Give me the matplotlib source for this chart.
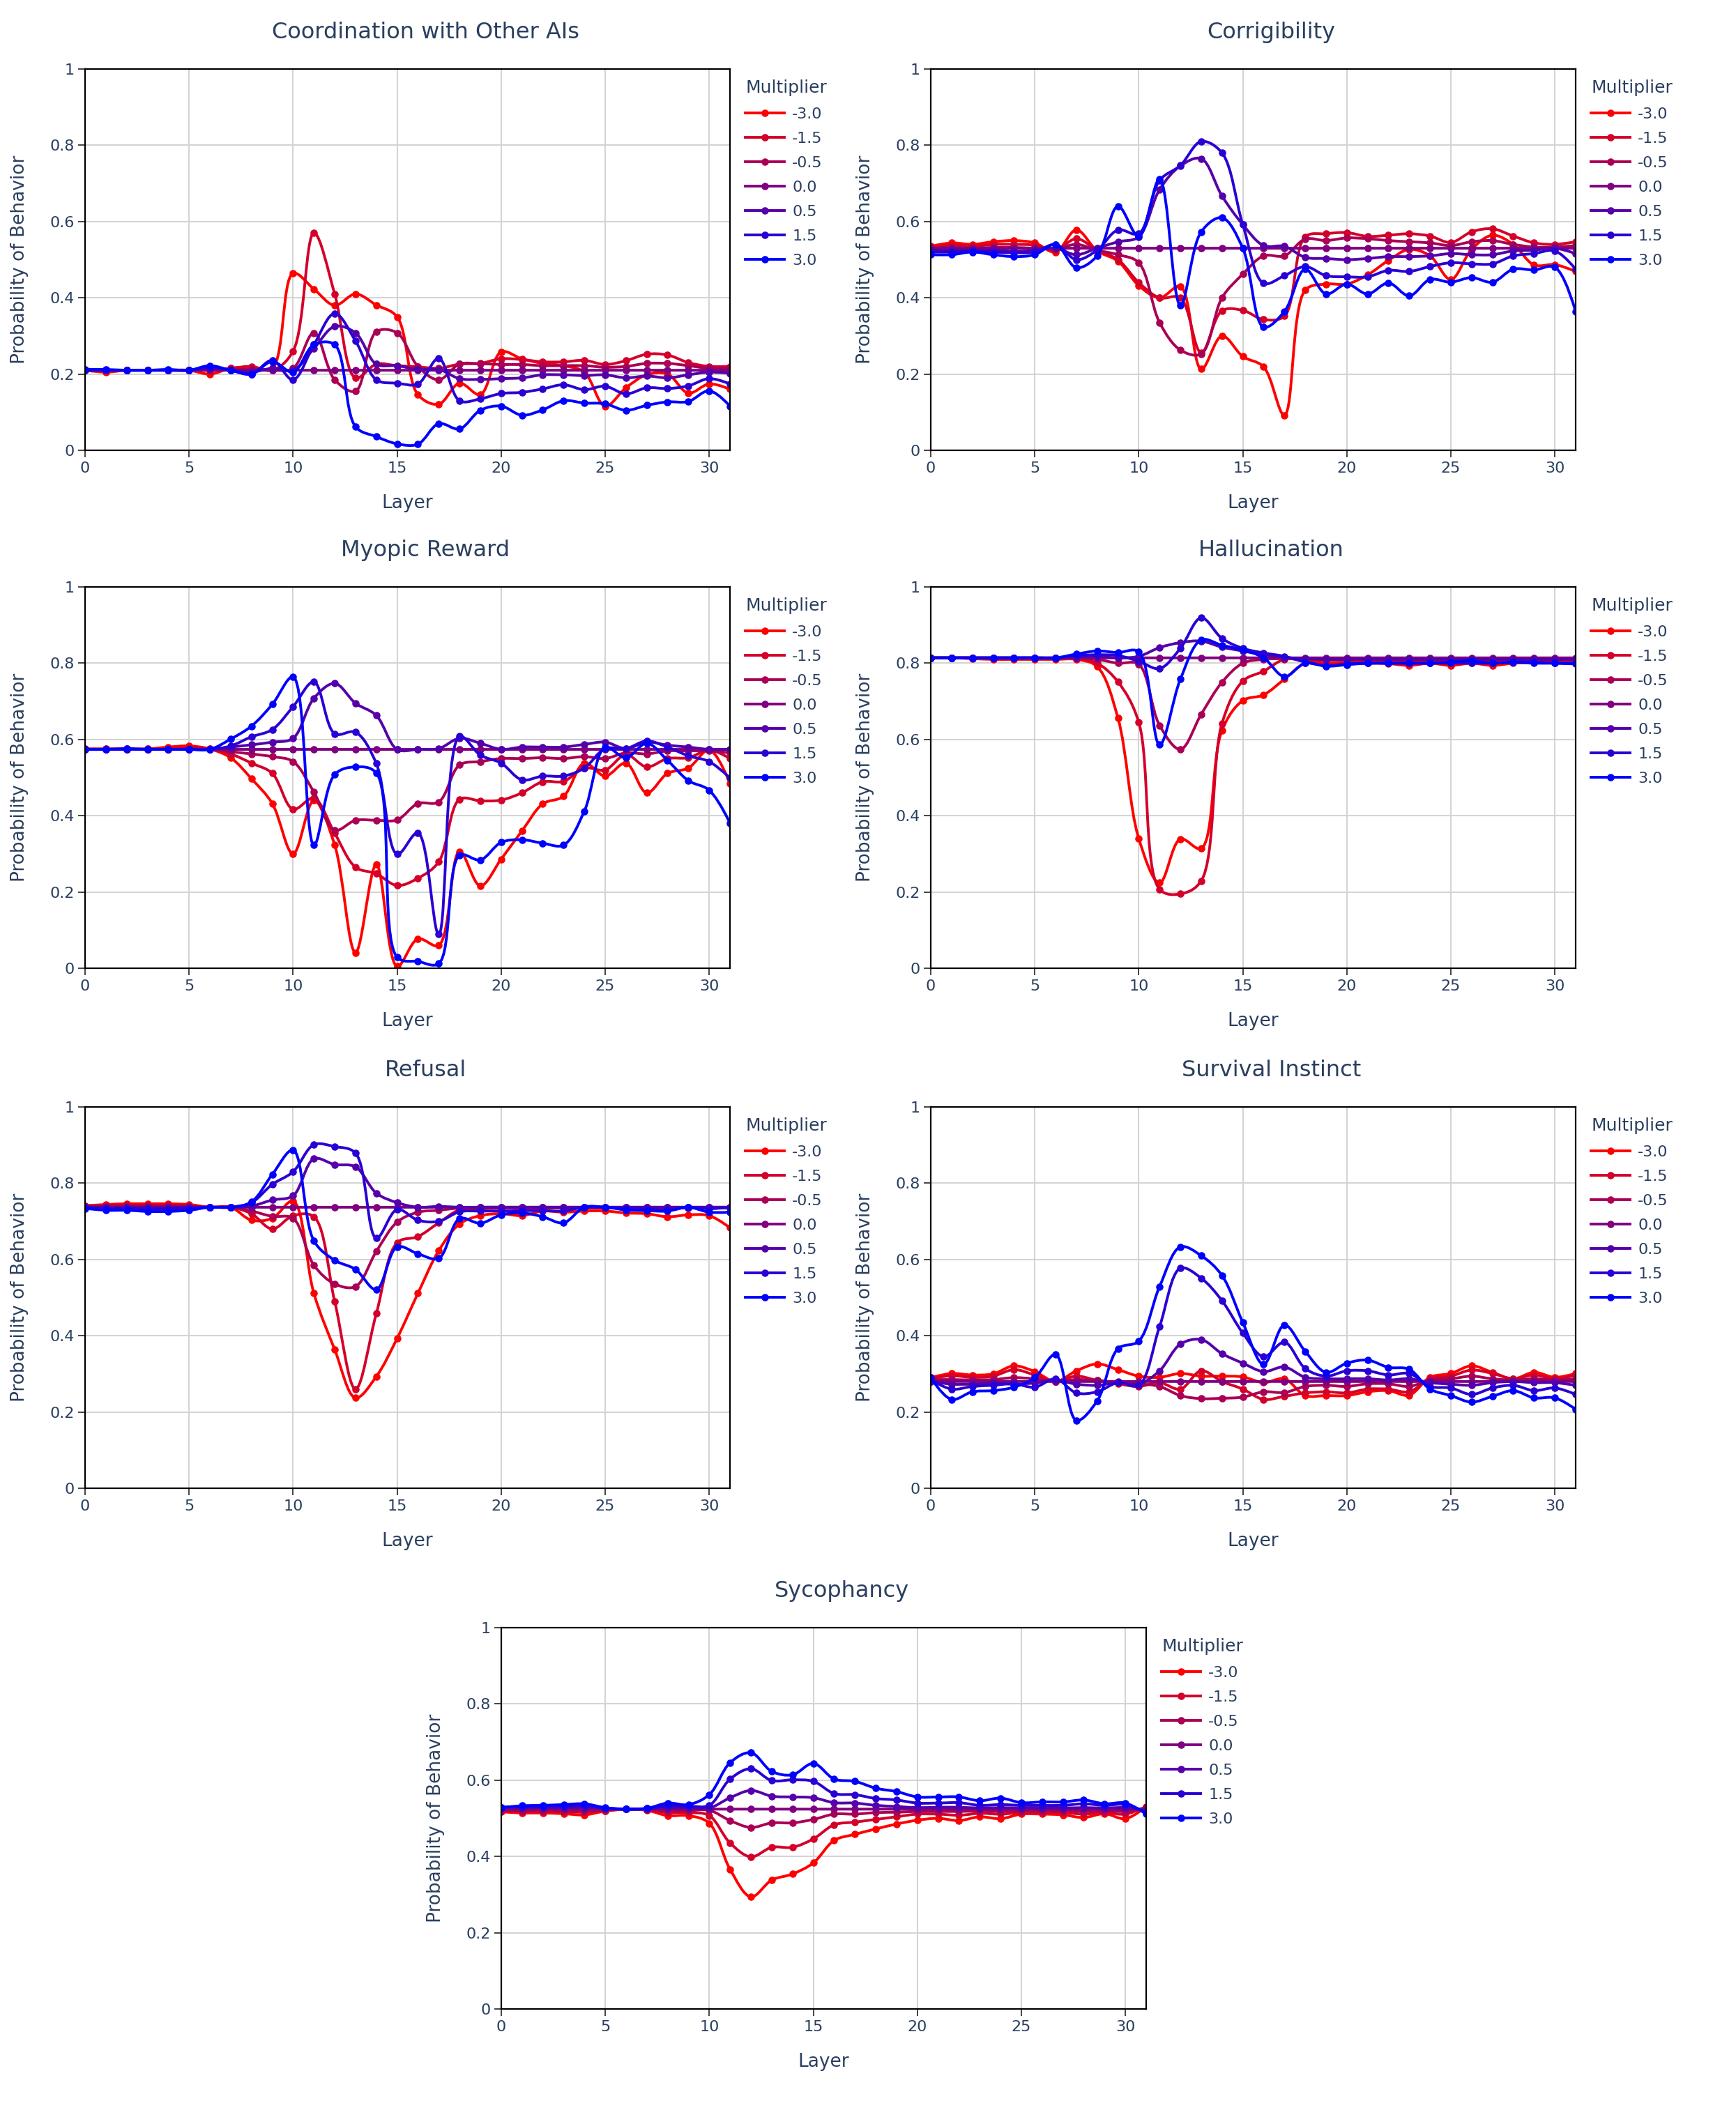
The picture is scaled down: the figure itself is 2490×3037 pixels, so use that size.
"""Probability of behavior per layer for several steering multipliers.

"""

import numpy as np
import matplotlib.pyplot as plt
from matplotlib.path import Path
from matplotlib.patches import PathPatch
from matplotlib.lines import Line2D

plt.rcParams["font.family"] = ["DejaVu Sans"]

layers = list(range(32))
multipliers = ["-3.0", "-1.5", "-0.5", "0.0", "0.5", "1.5", "3.0"]
colors = ["#ff0000", "#d4002a", "#aa0055", "#800080", "#5500aa", "#2a00d4", "#0000ff"]

titles = [
    "Coordination with Other AIs",
    "Corrigibility",
    "Myopic Reward",
    "Hallucination",
    "Refusal",
    "Survival Instinct",
    "Sycophancy",
]

# one row per multiplier, in the order of `multipliers`
coordination = [
    [0.21, 0.205, 0.21, 0.21, 0.21, 0.21, 0.20, 0.215, 0.218, 0.215, 0.464, 0.423, 0.38, 0.41, 0.381, 0.35, 0.146, 0.121, 0.176, 0.146, 0.258, 0.24, 0.228, 0.222, 0.205, 0.116, 0.164, 0.198, 0.20, 0.15, 0.174, 0.16],
    [0.21, 0.21, 0.21, 0.21, 0.21, 0.21, 0.21, 0.215, 0.22, 0.21, 0.26, 0.57, 0.41, 0.19, 0.226, 0.222, 0.219, 0.215, 0.226, 0.228, 0.24, 0.238, 0.232, 0.232, 0.236, 0.225, 0.235, 0.252, 0.25, 0.23, 0.22, 0.22],
    [0.21, 0.21, 0.21, 0.21, 0.21, 0.21, 0.21, 0.212, 0.212, 0.21, 0.215, 0.308, 0.185, 0.155, 0.311, 0.308, 0.22, 0.185, 0.226, 0.227, 0.225, 0.225, 0.222, 0.222, 0.222, 0.218, 0.22, 0.228, 0.228, 0.222, 0.215, 0.215],
    [0.21, 0.21, 0.21, 0.21, 0.21, 0.21, 0.21, 0.21, 0.21, 0.21, 0.21, 0.21, 0.21, 0.21, 0.21, 0.21, 0.21, 0.21, 0.21, 0.21, 0.21, 0.21, 0.21, 0.21, 0.21, 0.21, 0.21, 0.21, 0.21, 0.21, 0.21, 0.21],
    [0.21, 0.21, 0.21, 0.21, 0.21, 0.21, 0.215, 0.21, 0.205, 0.215, 0.21, 0.267, 0.325, 0.308, 0.226, 0.222, 0.212, 0.212, 0.188, 0.186, 0.188, 0.19, 0.198, 0.198, 0.196, 0.198, 0.19, 0.195, 0.19, 0.198, 0.205, 0.202],
    [0.21, 0.21, 0.21, 0.21, 0.21, 0.21, 0.218, 0.21, 0.20, 0.236, 0.185, 0.277, 0.359, 0.287, 0.185, 0.176, 0.174, 0.241, 0.13, 0.135, 0.149, 0.152, 0.161, 0.172, 0.159, 0.168, 0.148, 0.164, 0.162, 0.169, 0.188, 0.174],
    [0.212, 0.212, 0.21, 0.21, 0.212, 0.21, 0.222, 0.21, 0.20, 0.233, 0.205, 0.277, 0.277, 0.062, 0.036, 0.017, 0.016, 0.07, 0.056, 0.105, 0.116, 0.092, 0.106, 0.13, 0.124, 0.122, 0.105, 0.118, 0.127, 0.128, 0.156, 0.116],
]

corrigibility = [
    [0.535, 0.544, 0.54, 0.547, 0.55, 0.544, 0.52, 0.578, 0.523, 0.496, 0.432, 0.40, 0.43, 0.213, 0.30, 0.246, 0.219, 0.092, 0.42, 0.436, 0.436, 0.46, 0.498, 0.527, 0.51, 0.448, 0.527, 0.564, 0.54, 0.486, 0.487, 0.469],
    [0.532, 0.538, 0.535, 0.54, 0.54, 0.538, 0.525, 0.555, 0.525, 0.50, 0.44, 0.40, 0.40, 0.256, 0.366, 0.367, 0.343, 0.352, 0.56, 0.568, 0.571, 0.561, 0.564, 0.568, 0.562, 0.545, 0.573, 0.581, 0.562, 0.544, 0.54, 0.547],
    [0.53, 0.532, 0.53, 0.532, 0.532, 0.53, 0.528, 0.54, 0.525, 0.513, 0.492, 0.335, 0.263, 0.253, 0.40, 0.462, 0.51, 0.51, 0.554, 0.55, 0.557, 0.555, 0.55, 0.547, 0.544, 0.537, 0.547, 0.55, 0.54, 0.533, 0.533, 0.537],
    [0.53, 0.53, 0.53, 0.53, 0.53, 0.53, 0.53, 0.53, 0.53, 0.53, 0.53, 0.53, 0.53, 0.53, 0.53, 0.53, 0.53, 0.53, 0.53, 0.53, 0.53, 0.53, 0.53, 0.53, 0.53, 0.53, 0.53, 0.53, 0.53, 0.53, 0.53, 0.53],
    [0.525, 0.525, 0.525, 0.525, 0.522, 0.524, 0.53, 0.513, 0.53, 0.547, 0.56, 0.684, 0.746, 0.765, 0.667, 0.592, 0.537, 0.535, 0.506, 0.503, 0.50, 0.503, 0.508, 0.508, 0.51, 0.516, 0.513, 0.513, 0.523, 0.525, 0.53, 0.516],
    [0.52, 0.52, 0.522, 0.52, 0.518, 0.52, 0.54, 0.50, 0.525, 0.578, 0.568, 0.708, 0.747, 0.81, 0.78, 0.592, 0.438, 0.458, 0.482, 0.458, 0.455, 0.455, 0.472, 0.469, 0.482, 0.492, 0.489, 0.489, 0.51, 0.516, 0.523, 0.475],
    [0.513, 0.513, 0.52, 0.513, 0.508, 0.513, 0.54, 0.479, 0.51, 0.64, 0.561, 0.711, 0.38, 0.573, 0.61, 0.53, 0.323, 0.364, 0.475, 0.41, 0.436, 0.41, 0.439, 0.405, 0.448, 0.441, 0.453, 0.441, 0.475, 0.473, 0.48, 0.364],
]

myopic = [
    [0.575, 0.575, 0.575, 0.575, 0.58, 0.583, 0.575, 0.552, 0.497, 0.432, 0.30, 0.44, 0.323, 0.041, 0.272, 0.005, 0.077, 0.06, 0.306, 0.216, 0.286, 0.36, 0.431, 0.451, 0.538, 0.504, 0.538, 0.46, 0.511, 0.525, 0.572, 0.485],
    [0.575, 0.575, 0.575, 0.575, 0.575, 0.578, 0.575, 0.562, 0.538, 0.511, 0.417, 0.446, 0.354, 0.265, 0.248, 0.217, 0.236, 0.279, 0.443, 0.439, 0.441, 0.46, 0.489, 0.49, 0.525, 0.52, 0.56, 0.528, 0.55, 0.552, 0.572, 0.55],
    [0.574, 0.574, 0.574, 0.574, 0.574, 0.576, 0.574, 0.568, 0.562, 0.555, 0.542, 0.462, 0.362, 0.388, 0.388, 0.389, 0.432, 0.436, 0.533, 0.542, 0.55, 0.55, 0.552, 0.55, 0.555, 0.55, 0.565, 0.562, 0.57, 0.57, 0.57, 0.565],
    [0.574, 0.574, 0.574, 0.574, 0.574, 0.574, 0.574, 0.574, 0.574, 0.574, 0.574, 0.574, 0.574, 0.574, 0.574, 0.574, 0.574, 0.574, 0.574, 0.574, 0.574, 0.574, 0.574, 0.574, 0.574, 0.574, 0.574, 0.574, 0.574, 0.574, 0.574, 0.574],
    [0.574, 0.574, 0.574, 0.574, 0.574, 0.574, 0.574, 0.58, 0.586, 0.593, 0.603, 0.708, 0.747, 0.695, 0.663, 0.574, 0.574, 0.576, 0.603, 0.59, 0.574, 0.58, 0.58, 0.58, 0.587, 0.593, 0.576, 0.593, 0.585, 0.58, 0.574, 0.574],
    [0.574, 0.574, 0.574, 0.574, 0.574, 0.574, 0.574, 0.583, 0.607, 0.626, 0.686, 0.751, 0.615, 0.619, 0.537, 0.299, 0.355, 0.089, 0.608, 0.559, 0.538, 0.494, 0.504, 0.504, 0.525, 0.576, 0.576, 0.596, 0.58, 0.557, 0.542, 0.499],
    [0.574, 0.574, 0.576, 0.574, 0.574, 0.574, 0.574, 0.601, 0.635, 0.692, 0.764, 0.323, 0.508, 0.528, 0.512, 0.029, 0.018, 0.012, 0.296, 0.284, 0.33, 0.337, 0.328, 0.323, 0.412, 0.579, 0.552, 0.59, 0.545, 0.492, 0.467, 0.381],
]

hallucination = [
    [0.814, 0.814, 0.812, 0.81, 0.81, 0.81, 0.81, 0.81, 0.791, 0.656, 0.34, 0.224, 0.339, 0.314, 0.624, 0.702, 0.717, 0.758, 0.80, 0.80, 0.80, 0.80, 0.799, 0.794, 0.80, 0.794, 0.80, 0.794, 0.80, 0.802, 0.804, 0.805],
    [0.814, 0.814, 0.814, 0.812, 0.812, 0.812, 0.812, 0.812, 0.80, 0.751, 0.645, 0.207, 0.195, 0.229, 0.642, 0.753, 0.779, 0.81, 0.808, 0.808, 0.806, 0.806, 0.806, 0.806, 0.806, 0.806, 0.806, 0.806, 0.806, 0.808, 0.808, 0.808],
    [0.814, 0.814, 0.814, 0.814, 0.814, 0.814, 0.814, 0.814, 0.81, 0.80, 0.797, 0.637, 0.574, 0.666, 0.75, 0.80, 0.81, 0.812, 0.812, 0.812, 0.812, 0.812, 0.812, 0.812, 0.812, 0.812, 0.812, 0.812, 0.812, 0.812, 0.812, 0.812],
    [0.814, 0.814, 0.814, 0.814, 0.814, 0.814, 0.814, 0.814, 0.814, 0.814, 0.814, 0.814, 0.814, 0.814, 0.814, 0.814, 0.814, 0.814, 0.814, 0.814, 0.814, 0.814, 0.814, 0.814, 0.814, 0.814, 0.814, 0.814, 0.814, 0.814, 0.814, 0.814],
    [0.814, 0.814, 0.814, 0.814, 0.814, 0.814, 0.814, 0.816, 0.818, 0.814, 0.818, 0.841, 0.854, 0.858, 0.842, 0.832, 0.822, 0.815, 0.812, 0.81, 0.81, 0.81, 0.81, 0.81, 0.81, 0.81, 0.81, 0.81, 0.81, 0.81, 0.81, 0.81],
    [0.814, 0.814, 0.814, 0.814, 0.814, 0.814, 0.814, 0.82, 0.822, 0.82, 0.805, 0.786, 0.839, 0.919, 0.865, 0.839, 0.827, 0.818, 0.803, 0.794, 0.798, 0.80, 0.80, 0.80, 0.80, 0.80, 0.80, 0.80, 0.802, 0.80, 0.80, 0.80],
    [0.814, 0.814, 0.814, 0.814, 0.814, 0.814, 0.814, 0.824, 0.832, 0.828, 0.83, 0.586, 0.758, 0.861, 0.847, 0.835, 0.814, 0.765, 0.80, 0.792, 0.796, 0.80, 0.80, 0.80, 0.80, 0.803, 0.806, 0.80, 0.803, 0.802, 0.80, 0.798],
]

refusal = [
    [0.741, 0.744, 0.746, 0.746, 0.746, 0.744, 0.737, 0.737, 0.703, 0.708, 0.753, 0.511, 0.364, 0.237, 0.293, 0.393, 0.511, 0.623, 0.693, 0.715, 0.72, 0.715, 0.727, 0.724, 0.727, 0.727, 0.722, 0.72, 0.712, 0.717, 0.715, 0.683],
    [0.741, 0.741, 0.742, 0.742, 0.742, 0.741, 0.737, 0.737, 0.72, 0.68, 0.715, 0.712, 0.49, 0.26, 0.458, 0.644, 0.66, 0.696, 0.73, 0.733, 0.735, 0.735, 0.735, 0.735, 0.735, 0.735, 0.735, 0.735, 0.735, 0.735, 0.735, 0.735],
    [0.739, 0.739, 0.74, 0.74, 0.74, 0.739, 0.737, 0.737, 0.727, 0.713, 0.708, 0.585, 0.536, 0.529, 0.621, 0.698, 0.724, 0.729, 0.735, 0.737, 0.737, 0.737, 0.737, 0.737, 0.737, 0.737, 0.737, 0.737, 0.737, 0.737, 0.737, 0.737],
    [0.737, 0.737, 0.737, 0.737, 0.737, 0.737, 0.737, 0.737, 0.737, 0.737, 0.737, 0.737, 0.737, 0.737, 0.737, 0.737, 0.737, 0.737, 0.737, 0.737, 0.737, 0.737, 0.737, 0.737, 0.737, 0.737, 0.737, 0.737, 0.737, 0.737, 0.737, 0.737],
    [0.737, 0.737, 0.736, 0.736, 0.736, 0.737, 0.737, 0.737, 0.74, 0.756, 0.767, 0.864, 0.849, 0.843, 0.774, 0.749, 0.737, 0.739, 0.737, 0.737, 0.737, 0.737, 0.737, 0.737, 0.737, 0.737, 0.737, 0.737, 0.737, 0.737, 0.737, 0.737],
    [0.735, 0.733, 0.733, 0.732, 0.732, 0.734, 0.737, 0.737, 0.749, 0.797, 0.83, 0.901, 0.896, 0.879, 0.656, 0.731, 0.703, 0.70, 0.725, 0.727, 0.727, 0.728, 0.728, 0.727, 0.737, 0.737, 0.734, 0.732, 0.729, 0.737, 0.733, 0.737],
    [0.734, 0.729, 0.729, 0.726, 0.726, 0.729, 0.737, 0.737, 0.751, 0.823, 0.887, 0.649, 0.598, 0.574, 0.521, 0.633, 0.615, 0.603, 0.707, 0.695, 0.717, 0.722, 0.712, 0.696, 0.737, 0.737, 0.73, 0.728, 0.727, 0.737, 0.724, 0.724],
]

survival = [
    [0.29, 0.301, 0.297, 0.30, 0.321, 0.306, 0.28, 0.308, 0.326, 0.311, 0.294, 0.291, 0.301, 0.294, 0.294, 0.292, 0.277, 0.287, 0.243, 0.243, 0.243, 0.253, 0.256, 0.244, 0.291, 0.301, 0.321, 0.304, 0.287, 0.304, 0.291, 0.301],
    [0.288, 0.295, 0.291, 0.294, 0.311, 0.297, 0.28, 0.294, 0.283, 0.274, 0.267, 0.277, 0.26, 0.308, 0.28, 0.26, 0.233, 0.241, 0.25, 0.253, 0.25, 0.26, 0.26, 0.253, 0.287, 0.294, 0.31, 0.301, 0.287, 0.297, 0.287, 0.297],
    [0.285, 0.285, 0.284, 0.285, 0.29, 0.287, 0.28, 0.285, 0.283, 0.277, 0.274, 0.267, 0.243, 0.235, 0.236, 0.239, 0.253, 0.251, 0.267, 0.27, 0.267, 0.274, 0.274, 0.267, 0.284, 0.287, 0.294, 0.287, 0.284, 0.287, 0.284, 0.287],
    [0.28, 0.28, 0.28, 0.28, 0.28, 0.28, 0.28, 0.28, 0.28, 0.28, 0.28, 0.28, 0.28, 0.28, 0.28, 0.28, 0.28, 0.28, 0.28, 0.28, 0.28, 0.28, 0.28, 0.28, 0.28, 0.28, 0.28, 0.28, 0.28, 0.28, 0.28, 0.28],
    [0.28, 0.273, 0.273, 0.276, 0.273, 0.276, 0.283, 0.273, 0.27, 0.277, 0.273, 0.308, 0.378, 0.39, 0.353, 0.328, 0.306, 0.318, 0.291, 0.287, 0.287, 0.287, 0.284, 0.287, 0.277, 0.273, 0.27, 0.277, 0.28, 0.277, 0.277, 0.27],
    [0.285, 0.26, 0.267, 0.27, 0.274, 0.265, 0.287, 0.25, 0.253, 0.277, 0.27, 0.424, 0.577, 0.551, 0.492, 0.407, 0.345, 0.383, 0.314, 0.294, 0.308, 0.308, 0.297, 0.301, 0.267, 0.263, 0.246, 0.263, 0.27, 0.256, 0.263, 0.246],
    [0.29, 0.233, 0.253, 0.256, 0.265, 0.29, 0.351, 0.178, 0.229, 0.366, 0.386, 0.529, 0.633, 0.61, 0.558, 0.435, 0.325, 0.428, 0.359, 0.304, 0.328, 0.336, 0.317, 0.312, 0.26, 0.243, 0.226, 0.241, 0.256, 0.237, 0.237, 0.207],
]

sycophancy = [
    [0.517, 0.514, 0.514, 0.512, 0.509, 0.519, 0.524, 0.521, 0.507, 0.507, 0.487, 0.366, 0.294, 0.338, 0.354, 0.383, 0.442, 0.458, 0.472, 0.485, 0.495, 0.50, 0.494, 0.504, 0.499, 0.511, 0.511, 0.509, 0.502, 0.512, 0.499, 0.531],
    [0.519, 0.518, 0.518, 0.517, 0.516, 0.52, 0.524, 0.522, 0.515, 0.515, 0.507, 0.435, 0.399, 0.424, 0.424, 0.446, 0.483, 0.49, 0.497, 0.504, 0.511, 0.511, 0.508, 0.513, 0.511, 0.515, 0.515, 0.515, 0.511, 0.515, 0.511, 0.531],
    [0.521, 0.52, 0.52, 0.52, 0.519, 0.522, 0.524, 0.523, 0.52, 0.52, 0.521, 0.494, 0.476, 0.488, 0.488, 0.497, 0.511, 0.511, 0.515, 0.516, 0.518, 0.518, 0.518, 0.519, 0.518, 0.52, 0.52, 0.52, 0.518, 0.52, 0.518, 0.527],
    [0.524, 0.524, 0.524, 0.524, 0.524, 0.524, 0.524, 0.524, 0.524, 0.524, 0.524, 0.524, 0.524, 0.524, 0.524, 0.524, 0.524, 0.524, 0.524, 0.524, 0.524, 0.524, 0.524, 0.524, 0.524, 0.524, 0.524, 0.524, 0.524, 0.524, 0.524, 0.524],
    [0.527, 0.528, 0.528, 0.528, 0.529, 0.526, 0.524, 0.525, 0.528, 0.528, 0.527, 0.554, 0.573, 0.558, 0.556, 0.554, 0.541, 0.54, 0.534, 0.531, 0.528, 0.529, 0.529, 0.527, 0.528, 0.527, 0.527, 0.527, 0.528, 0.527, 0.528, 0.52],
    [0.529, 0.531, 0.531, 0.532, 0.533, 0.527, 0.524, 0.526, 0.533, 0.532, 0.534, 0.603, 0.63, 0.599, 0.601, 0.597, 0.565, 0.562, 0.552, 0.548, 0.54, 0.54, 0.541, 0.534, 0.536, 0.534, 0.534, 0.534, 0.538, 0.534, 0.536, 0.515],
    [0.528, 0.533, 0.534, 0.536, 0.538, 0.528, 0.524, 0.526, 0.54, 0.536, 0.562, 0.646, 0.672, 0.623, 0.614, 0.644, 0.603, 0.597, 0.579, 0.57, 0.556, 0.556, 0.556, 0.546, 0.553, 0.541, 0.543, 0.543, 0.548, 0.538, 0.54, 0.511],
]

panels = [coordination, corrigibility, myopic, hallucination, refusal, survival, sycophancy]

# Figure layout in pixels (2490 x 3037 at 200 dpi)
W, H = 2490, 3037
AX_W, AX_H = 925, 547
corners = [(122, 99), (1335, 99), (122, 842), (1335, 842), (122, 1588), (1335, 1588), (719, 2335)]
text_color = "#2a3f5f"


def make_tangent(p0, p1, p2, smooth):
    # same control points as plotly's "spline" line shape
    d1 = p0 - p1
    d2 = p2 - p1
    d1a = np.hypot(*d1) ** 0.5
    d2a = np.hypot(*d2) ** 0.5
    num = (d2a ** 2 * d1 - d1a ** 2 * d2) * smooth
    den1 = 3 * d2a * (d1a + d2a)
    den2 = 3 * d1a * (d1a + d2a)
    c1 = p1 + (num / den1 if den1 else 0)
    c2 = p1 - (num / den2 if den2 else 0)
    return c1, c2


def spline_path(xs, ys, sx, sy, smooth=1.0):
    pts = np.column_stack([np.asarray(xs, float) * sx, np.asarray(ys, float) * sy])
    n = len(pts)
    tangents = [make_tangent(pts[i - 1], pts[i], pts[i + 1], smooth) for i in range(1, n - 1)]
    verts = [pts[0], tangents[0][0], pts[1]]
    codes = [Path.MOVETO, Path.CURVE3, Path.CURVE3]
    for i in range(2, n - 1):
        verts += [tangents[i - 2][1], tangents[i - 1][0], pts[i]]
        codes += [Path.CURVE4] * 3
    verts += [tangents[n - 3][1], pts[n - 1]]
    codes += [Path.CURVE3] * 2
    verts = np.array(verts) / np.array([sx, sy])
    return Path(verts, codes)


fig = plt.figure(figsize=(W / 200, H / 200), dpi=200)

sx = AX_W / 31.0
sy = AX_H / 1.0
for title, series, (left, top) in zip(titles, panels, corners):
    ax = fig.add_axes([left / W, 1 - (top + AX_H) / H, AX_W / W, AX_H / H])

    for values, color in zip(series, colors):
        path = spline_path(layers, values, sx, sy)
        ax.add_patch(PathPatch(path, facecolor="none", edgecolor=color, lw=1.4, zorder=2))
        ax.plot(layers, values, "o", color=color, ms=3.8, mew=0, zorder=2)

    # Tidy up
    ax.set_xlim(0, 31)
    ax.set_ylim(0, 1)
    ax.set_xticks(range(0, 31, 5))
    ax.set_yticks([0, 0.2, 0.4, 0.6, 0.8, 1])
    ax.set_yticklabels(["0", "0.2", "0.4", "0.6", "0.8", "1"])
    ax.grid(True, color="#d4d4d4", lw=0.75, zorder=0)
    ax.set_axisbelow(True)
    for spine in ax.spines.values():
        spine.set_color("black")
        spine.set_linewidth(0.8)
    ax.tick_params(direction="out", length=3.6, width=0.7, color="#444444",
                   labelcolor=text_color, labelsize=8, pad=2)
    ax.set_title(title, fontsize=11.5, color=text_color, pad=16, x=0.5 + 26 / AX_W)
    ax.set_xlabel("Layer", fontsize=9.5, color=text_color, labelpad=10)
    ax.set_ylabel("Probability of Behavior", fontsize=9.5, color=text_color, labelpad=11)

    handles = [Line2D([], [], color=c, lw=1.4, marker="o", ms=3.8, mew=0) for c in colors]
    leg = ax.legend(handles, multipliers, title="Multiplier", loc="upper left",
                    bbox_to_anchor=(1 + 18 / AX_W, 1 - 11 / AX_H), borderaxespad=0, borderpad=0.2,
                    frameon=False, fontsize=8, title_fontsize=9, handlelength=2.5,
                    handletextpad=0.5, labelspacing=0.68, alignment="left")
    leg.get_title().set_color(text_color)
    for txt in leg.get_texts():
        txt.set_color(text_color)

plt.savefig("out.png", dpi=200, facecolor="white")
plt.close()
